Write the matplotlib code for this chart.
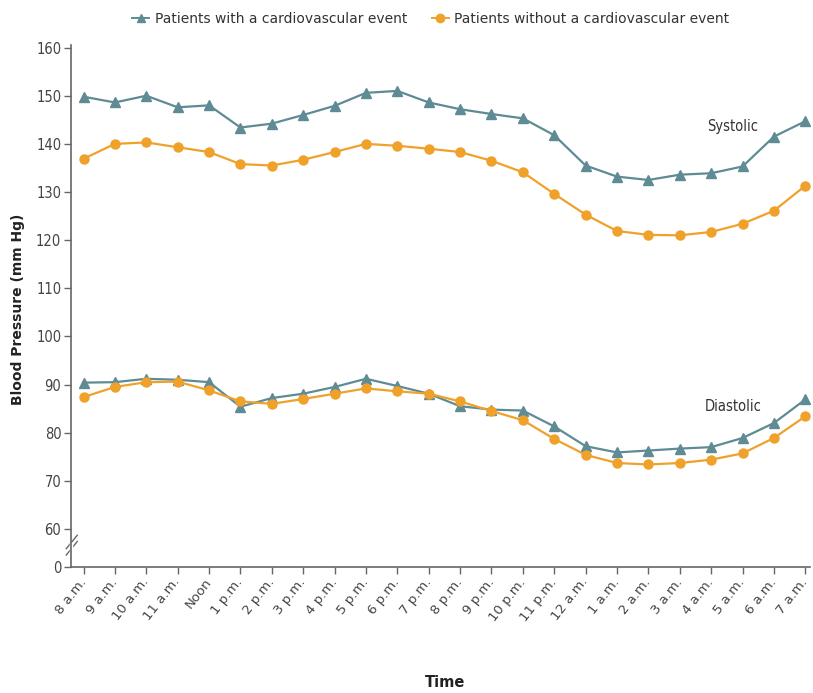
import matplotlib.pyplot as plt
from matplotlib.lines import Line2D
from matplotlib.transforms import ScaledTranslation

# data
times = ['8 a.m.', '9 a.m.', '10 a.m.', '11 a.m.', 'Noon', '1 p.m.', '2 p.m.', '3 p.m.',
         '4 p.m.', '5 p.m.', '6 p.m.', '7 p.m.', '8 p.m.', '9 p.m.', '10 p.m.', '11 p.m.',
         '12 a.m.', '1 a.m.', '2 a.m.', '3 a.m.', '4 a.m.', '5 a.m.', '6 a.m.', '7 a.m.']

sys_event = [149.8, 148.6, 150.0, 147.6, 148.0, 143.4, 144.2, 146.0, 147.9, 150.6, 151.0, 148.6,
             147.2, 146.2, 145.3, 141.8, 135.5, 133.2, 132.5, 133.6, 133.9, 135.3, 141.5, 144.7]
sys_no_event = [136.9, 140.0, 140.3, 139.3, 138.3, 135.8, 135.5, 136.7, 138.3, 140.0, 139.6, 139.0,
                138.3, 136.5, 134.1, 129.6, 125.3, 121.9, 121.1, 121.0, 121.7, 123.4, 126.1, 131.3]
dia_event = [90.4, 90.5, 91.2, 91.0, 90.5, 85.4, 87.2, 88.1, 89.5, 91.2, 89.7, 88.1,
             85.5, 84.8, 84.6, 81.3, 77.2, 75.9, 76.3, 76.7, 77.0, 78.9, 82.0, 86.9]
dia_no_event = [87.4, 89.5, 90.5, 90.6, 88.8, 86.5, 86.0, 87.0, 88.1, 89.2, 88.6, 88.1,
                86.5, 84.5, 82.6, 78.7, 75.4, 73.7, 73.4, 73.7, 74.4, 75.7, 78.9, 83.4]

y_ticks = [60, 70, 80, 90, 100, 110, 120, 130, 140, 150, 160]
zero_pos = 52.1  # where the "0" sits below the axis break

teal = '#5e8b94'
orange = '#f0a12a'
gray = '#444444'

plt.rcParams['font.family'] = ['DejaVu Sans']

fig = plt.figure(figsize=(8.13, 6.93), dpi=100)
ax = fig.add_axes([0.0873, 0.1818, 0.909, 0.753])

x = list(range(len(times)))
ax.plot(x, sys_event, color=teal, marker='^', markersize=6.5, lw=1.6)
ax.plot(x, sys_no_event, color=orange, marker='o', markersize=6.5, lw=1.6)
ax.plot(x, dia_event, color=teal, marker='^', markersize=6.5, lw=1.6)
ax.plot(x, dia_no_event, color=orange, marker='o', markersize=6.5, lw=1.6)

ax.set_xlim(-0.4, 23.15)
ax.set_ylim(zero_pos, 160.5)

ax.set_yticks([zero_pos] + y_ticks)
ax.set_yticklabels(['0'] + [str(v) for v in y_ticks], fontsize=10.5, color=gray,
                   fontstretch='condensed')
ax.set_xticks(x)
ax.set_xticklabels(times, rotation=52, ha='right', va='center', rotation_mode='anchor',
                   fontsize=9.5, color=gray)
# nudge the slanted labels a little left so the last one stays inside the figure
shift = ScaledTranslation(-5 / 72, 0, fig.dpi_scale_trans)
for lab in ax.get_xticklabels():
    lab.set_transform(lab.get_transform() + shift)

for side in ['top', 'right']:
    ax.spines[side].set_visible(False)
for side in ['left', 'bottom']:
    ax.spines[side].set_color('#666666')
    ax.spines[side].set_linewidth(1.2)
ax.tick_params(axis='both', direction='out', length=5, color='#666666', width=1)
ax.tick_params(axis='y', pad=2)
ax.tick_params(axis='x', pad=4)

# axis break marks
for dy in [0, 1.3]:
    ax.plot([-0.55, -0.2], [54.6 + dy, 57.4 + dy], color='#666666', lw=1,
            transform=ax.transData, clip_on=False)
ax.plot([-0.4, -0.4], [55.5, 56.8], color='white', lw=2.5, clip_on=False)

ax.text(20.7, 143.7, 'Systolic', fontsize=10.5, color='#333333', ha='center', va='center',
        fontstretch='condensed')
ax.text(20.7, 85.4, 'Diastolic', fontsize=10.5, color='#333333', ha='center', va='center',
        fontstretch='condensed')

fig.text(0.022, 0.553, 'Blood Pressure (mm Hg)', rotation=90, fontsize=10,
         fontweight='bold', ha='center', va='center', color='#222222')
fig.text(0.547, 0.015, 'Time', fontsize=10.5, fontweight='bold', ha='center', va='center',
         color='#222222')

handles = [Line2D([], [], color=teal, marker='^', markersize=6, lw=1.4),
           Line2D([], [], color=orange, marker='o', markersize=6, lw=1.4)]
fig.legend(handles, ['Patients with a cardiovascular event',
                     'Patients without a cardiovascular event'],
           loc='center', bbox_to_anchor=(0.53, 0.973), ncol=2, frameon=False,
           fontsize=10, handlelength=1.2, handletextpad=0.4, columnspacing=1.8,
           labelcolor='#333333')

fig.savefig('out.png', dpi=100)
